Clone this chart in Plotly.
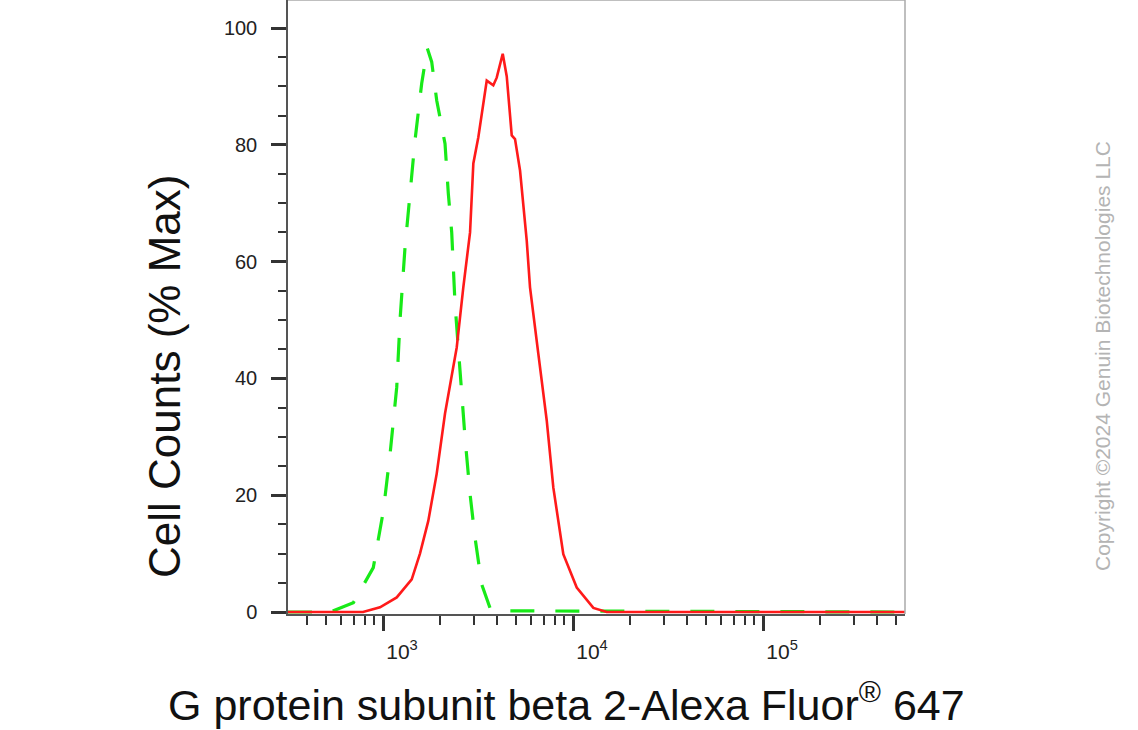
import plotly.graph_objects as go

# ---- data ----
red_x = [316, 785, 964, 1181, 1416, 1565, 1731, 1917, 2120, 2443, 2646, 2871, 2988, 3174,
         3515, 3806, 3966, 4266, 4479, 4758, 4951, 5262, 5706, 5938, 6568, 7271, 7877,
         8889, 10459, 12790, 15040, 558000]
red_y = [0, 0, 0.8, 2.5, 5.6, 10, 15.6, 23.7, 34, 45.3, 55.6, 65, 76.8, 81.3,
         91, 90.2, 91.5, 95.6, 91.7, 81.6, 81, 75.6, 63.6, 55.6, 44.2, 32.8, 21.3,
         9.9, 4.2, 0.7, 0, 0]

green_x = [316, 526, 698, 889, 1004, 1089, 1181, 1229, 1306, 1474, 1598, 1711, 1804, 1917,
           2120, 2207, 2299, 2393, 2543, 2701, 2871, 3050, 3308, 3657, 4128, 558000]
green_y = [0, 0, 1.6, 7.6, 17.3, 27, 38.5, 50, 62.5, 80.8, 90.5, 96.5, 94.2, 87.6,
           80.2, 71.6, 65, 52.8, 41.3, 29.9, 20.2, 12.7, 4.7, 0.7, 0.2, 0]

x_major = [1000, 10000, 100000]
x_major_text = ["10<sup>3</sup>", "10<sup>4</sup>", "10<sup>5</sup>"]
x_minor = [400, 500, 600, 700, 800, 900,
           2000, 3000, 4000, 5000, 6000, 7000, 8000, 9000,
           20000, 30000, 40000, 50000, 60000, 70000, 80000, 90000,
           200000, 300000, 400000, 500000]
y_major = [0, 20, 40, 60, 80, 100]
y_minor = [5, 10, 15, 25, 30, 35, 45, 50, 55, 65, 70, 75, 85, 90, 95]

x_title = "G protein subunit beta 2-Alexa Fluor<sup>®</sup> 647"
y_title = "Cell Counts (% Max)"
copyright_text = "Copyright ©2024 Genuin Biotechnologies LLC"

FONT = "Liberation Sans, Arial, sans-serif"

fig = go.Figure()
fig.add_trace(go.Scatter(x=green_x, y=green_y, mode="lines",
                         line=dict(color="#18ea18", width=3.2, dash="24px,21px"),
                         showlegend=False, hoverinfo="skip"))
fig.add_trace(go.Scatter(x=red_x, y=red_y, mode="lines",
                         line=dict(color="#ff1a1a", width=2.6),
                         showlegend=False, hoverinfo="skip"))

fig.update_layout(
    width=1138, height=730,
    margin=dict(l=288, r=233, t=0, b=116),
    plot_bgcolor="white", paper_bgcolor="white",
    font=dict(family=FONT, color="#333333"),
    xaxis=dict(
        type="log", range=[2.5, 5.747],
        tickmode="array", tickvals=x_major, ticktext=x_major_text,
        ticks="outside", ticklen=15, tickwidth=3, tickcolor="#333333",
        showline=True, linecolor="#555555", linewidth=1.5,
        showgrid=False, zeroline=False,
        tickfont=dict(size=21, color="#222222", family=FONT),
        ticklabelshift=19, ticklabelstandoff=3,
        minor=dict(tickmode="array", tickvals=x_minor, ticks="outside",
                   ticklen=9, tickwidth=1.5, tickcolor="#333333", showgrid=False),
    ),
    yaxis=dict(
        range=[-0.34, 104.8],
        tickmode="array", tickvals=y_major,
        ticks="outside", ticklen=15, tickwidth=3, tickcolor="#333333",
        showline=True, linecolor="#555555", linewidth=1.5,
        showgrid=False, zeroline=False,
        tickfont=dict(size=20, color="#222222", family=FONT),
        ticklabelstandoff=10,
        minor=dict(tickmode="array", tickvals=y_minor, ticks="outside",
                   ticklen=8, tickwidth=1.5, tickcolor="#333333", showgrid=False),
    ),
    shapes=[
        dict(type="line", xref="paper", yref="paper", x0=0, x1=1, y0=1, y1=1,
             line=dict(color="#aaaaaa", width=1.5)),
        dict(type="line", xref="paper", yref="paper", x0=1, x1=1, y0=0, y1=1,
             line=dict(color="#aaaaaa", width=1.5)),
    ],
    annotations=[
        dict(text=x_title, xref="paper", yref="paper",
             x=(566.5 - 288) / 617, y=-(702 - 614) / 614,
             xanchor="center", yanchor="middle", showarrow=False,
             font=dict(size=43, color="#111111", family=FONT)),
        dict(text=y_title, xref="paper", yref="paper",
             x=-(288 - 164) / 617, y=(614 - 377) / 614,
             xanchor="center", yanchor="middle", showarrow=False, textangle=-90,
             font=dict(size=44, color="#111111", family=FONT)),
        dict(text=copyright_text, xref="paper", yref="paper",
             x=(1102 - 288) / 617, y=(614 - 356) / 614,
             xanchor="center", yanchor="middle", showarrow=False, textangle=-90,
             font=dict(size=21, color="#b4b4b4", family=FONT)),
    ],
)

fig.write_html("out.html", config={"displayModeBar": False},
               post_script="document.body.style.margin='0';")
